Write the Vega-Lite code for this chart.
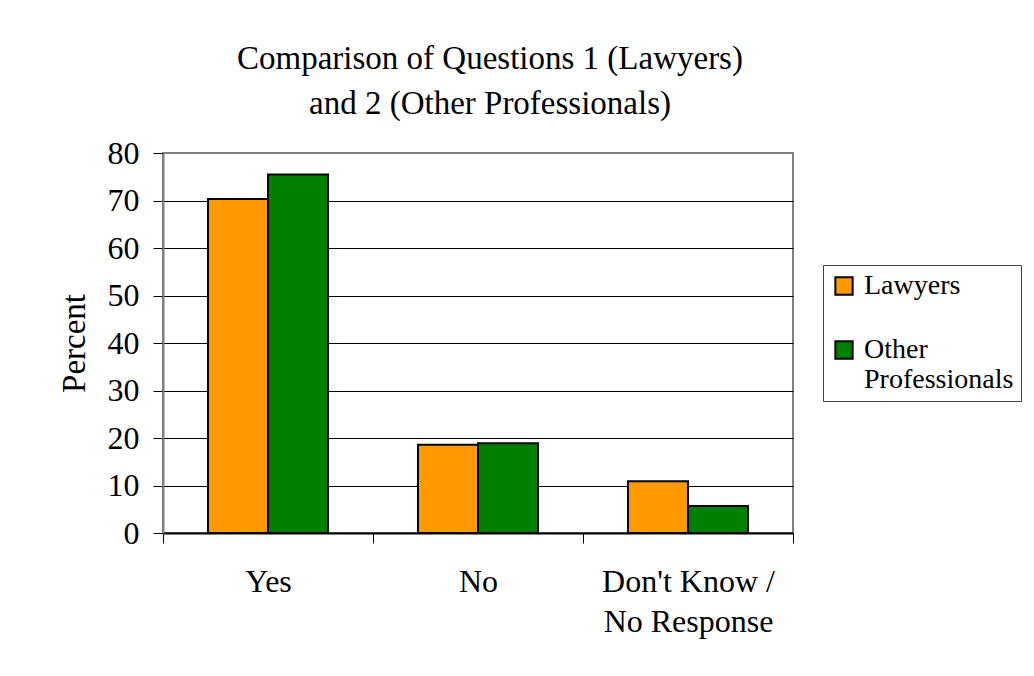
{
  "$schema": "https://vega.github.io/schema/vega-lite/v6.json",
  "autosize": "none",
  "width": 630,
  "height": 380,
  "padding": {"left": 163, "top": 153, "right": 241, "bottom": 143},
  "background": "white",
  "config": {
    "font": "Liberation Serif",
    "view": {"stroke": "#808080", "strokeWidth": 2}
  },
  "title": {
    "text": ["Comparison of Questions 1 (Lawyers)", "and 2 (Other Professionals)"],
    "font": "Liberation Serif",
    "fontSize": 33,
    "fontWeight": "normal",
    "color": "black",
    "anchor": "middle",
    "dx": 12,
    "offset": 16,
    "lineHeight": 45
  },
  "data": {
    "values": [
      {"answer": "Yes", "group": "Lawyers", "percent": 70.3},
      {"answer": "Yes", "group": "Other Professionals", "percent": 75.5},
      {"answer": "No", "group": "Lawyers", "percent": 18.6},
      {"answer": "No", "group": "Other Professionals", "percent": 18.9},
      {"answer": "Don't Know / No Response", "group": "Lawyers", "percent": 10.9},
      {"answer": "Don't Know / No Response", "group": "Other Professionals", "percent": 5.7}
    ]
  },
  "mark": {"type": "bar", "stroke": "black", "strokeWidth": 2},
  "encoding": {
    "x": {
      "field": "answer",
      "type": "nominal",
      "sort": ["Yes", "No", "Don't Know / No Response"],
      "scale": {"paddingInner": 0, "paddingOuter": 0},
      "axis": {
        "title": null,
        "labelAngle": 0,
        "labelFont": "Liberation Serif",
        "labelFontSize": 32,
        "labelColor": "black",
        "labelPadding": 23,
        "labelLineHeight": 40,
        "labelExpr": "datum.label == 'Don\\'t Know / No Response' ? ['Don\\'t Know /', 'No Response'] : datum.label",
        "tickBand": "extent",
        "tickSize": 10,
        "tickColor": "black",
        "tickWidth": 1,
        "domainColor": "black",
        "domainWidth": 2,
        "grid": false
      }
    },
    "xOffset": {
      "field": "group",
      "type": "nominal",
      "scale": {"paddingInner": 0, "paddingOuter": 0.75}
    },
    "y": {
      "field": "percent",
      "type": "quantitative",
      "scale": {"domain": [0, 80], "nice": false},
      "axis": {
        "title": "Percent",
        "titleFont": "Liberation Serif",
        "titleFontSize": 33,
        "titleFontWeight": "normal",
        "titleColor": "black",
        "titlePadding": 16,
        "values": [0, 10, 20, 30, 40, 50, 60, 70, 80],
        "labelFont": "Liberation Serif",
        "labelFontSize": 32,
        "labelColor": "black",
        "labelPadding": 14,
        "tickSize": 10,
        "tickColor": "black",
        "domainColor": "#808080",
        "domainWidth": 2,
        "grid": true,
        "gridColor": {"condition": {"test": "datum.value == 80", "value": "#808080"}, "value": "black"},
        "gridWidth": 1
      }
    },
    "fill": {
      "field": "group",
      "type": "nominal",
      "scale": {"domain": ["Lawyers", "Other Professionals"], "range": ["#FF9900", "#008000"]},
      "legend": {
        "title": null,
        "orient": "none",
        "legendX": 660,
        "legendY": 112,
        "padding": 7,
        "strokeColor": "#404040",
        "fillColor": "white",
        "symbolType": "square",
        "symbolSize": 300,
        "symbolStrokeColor": "black",
        "symbolStrokeWidth": 2,
        "labelFont": "Liberation Serif",
        "labelFontSize": 28,
        "labelColor": "black",
        "labelLimit": 300,
        "labelOffset": 6,
        "labelLineHeight": 30,
        "rowPadding": 36,
        "labelExpr": "datum.label == 'Other Professionals' ? ['Other', 'Professionals'] : datum.label"
      }
    }
  }
}
